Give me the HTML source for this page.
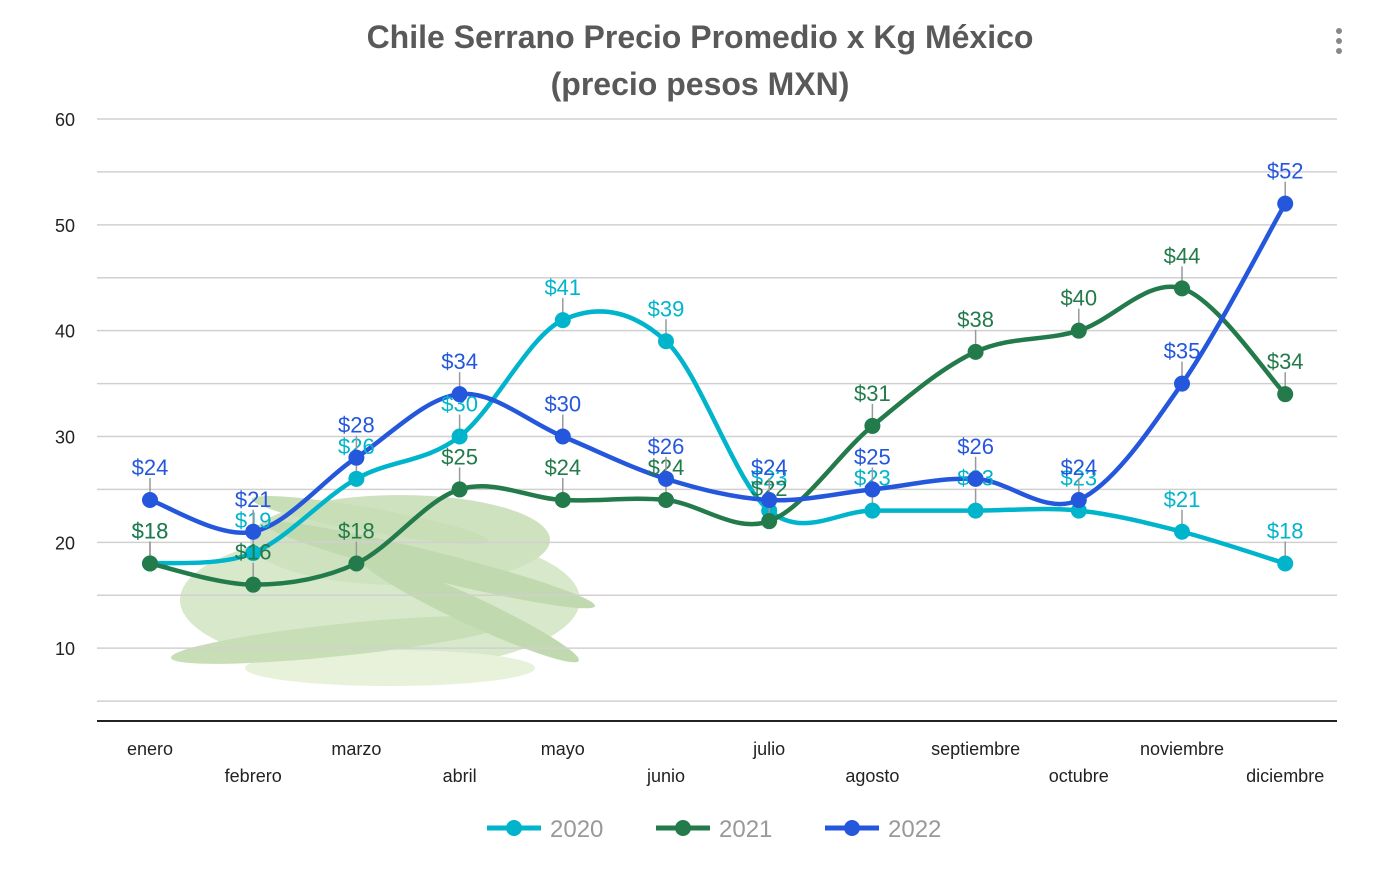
<!DOCTYPE html>
<html><head><meta charset="utf-8"><style>
body{margin:0;background:#fff;width:1400px;height:874px;overflow:hidden}
svg{display:block}
</style></head><body>
<svg id="s" width="1400" height="874" xmlns="http://www.w3.org/2000/svg" font-family="Liberation Sans, sans-serif">
<text x="700" y="48" text-anchor="middle" font-size="32" font-weight="bold" fill="#595959">Chile Serrano Precio Promedio x Kg México</text>
<text x="700" y="95" text-anchor="middle" font-size="32" font-weight="bold" fill="#595959">(precio pesos MXN)</text>
<circle cx="1339" cy="31" r="3" fill="#888"/><circle cx="1339" cy="41" r="3" fill="#888"/><circle cx="1339" cy="51" r="3" fill="#888"/>
<g id="pep" opacity="0.55">
<ellipse cx="380" cy="600" rx="200" ry="70" fill="#b9d6a0"/>
<ellipse cx="400" cy="540" rx="150" ry="45" fill="#a9cc8c"/>
<ellipse cx="390" cy="668" rx="145" ry="18" fill="#d6e8bd"/>
<ellipse cx="340" cy="640" rx="170" ry="16" fill="#9cc47c" transform="rotate(-6 340 640)"/>
<ellipse cx="430" cy="565" rx="170" ry="14" fill="#8fbb6e" transform="rotate(14 430 565)"/>
<ellipse cx="370" cy="520" rx="120" ry="12" fill="#9cc47c" transform="rotate(10 370 520)"/>
<ellipse cx="470" cy="610" rx="120" ry="14" fill="#8fbb6e" transform="rotate(25 470 610)"/>
</g>
<g id="g"></g>
</svg>
<script>
var g=document.getElementById('g'),ns='http://www.w3.org/2000/svg';
function el(t,a,txt){var e=document.createElementNS(ns,t);for(var k in a)e.setAttribute(k,a[k]);if(txt!=null)e.textContent=txt;g.appendChild(e);return e;}
function Y(v){return 754-v*10.583;}
function X(i){return 150+i*103.2;}
for(var v=5;v<=60;v+=5){el('line',{x1:97,x2:1337,y1:Y(v),y2:Y(v),stroke:'#d0d0d0','stroke-width':1.5});}
[10,20,30,40,50,60].forEach(function(v){el('text',{x:75,y:Y(v)+7,'text-anchor':'end','font-size':18,fill:'#222'},v);});
el('line',{x1:97,x2:1337,y1:721,y2:721,stroke:'#222','stroke-width':2});
var m=['enero','febrero','marzo','abril','mayo','junio','julio','agosto','septiembre','octubre','noviembre','diciembre'];
m.forEach(function(n,i){el('text',{x:X(i),y:i%2?782:755,'text-anchor':'middle','font-size':18,fill:'#222'},n);});
var S=[['#00b4cc',[18,19,26,30,41,39,23,23,23,23,21,18],'2020'],['#237a4a',[18,16,18,25,24,24,22,31,38,40,44,34],'2021'],['#2457dc',[24,21,28,34,30,26,24,25,26,24,35,52],'2022']];
S.forEach(function(s){
 var p=s[1].map(function(v,i){return [X(i),Y(v)];});
 var d='M'+p[0];
 for(var i=0;i<p.length-1;i++){var a=p[i-1]||p[i],b=p[i],c=p[i+1],e=p[i+2]||c;
  d+=' C'+(b[0]+(c[0]-a[0])/6)+','+(b[1]+(c[1]-a[1])/6)+' '+(c[0]-(e[0]-b[0])/6)+','+(c[1]-(e[1]-b[1])/6)+' '+c[0]+','+c[1];}
 el('path',{d:d,fill:'none',stroke:s[0],'stroke-width':4.5});
});
S.forEach(function(s){s[1].forEach(function(v,i){
 el('line',{x1:X(i),x2:X(i),y1:Y(v),y2:Y(v)-22,stroke:'#999','stroke-width':1.5});
 el('circle',{cx:X(i),cy:Y(v),r:8,fill:s[0]});
 el('text',{x:X(i),y:Y(v)-25,'text-anchor':'middle','font-size':22,fill:s[0]},'$'+v);
});});
var lx=[487,656,825];
S.forEach(function(s,k){var x=lx[k];
 el('line',{x1:x,x2:x+54,y1:828,y2:828,stroke:s[0],'stroke-width':5});
 el('circle',{cx:x+27,cy:828,r:8,fill:s[0]});
 el('text',{x:x+63,y:837,'font-size':24,fill:'#999'},s[2]);
});
</script>
</body></html>
